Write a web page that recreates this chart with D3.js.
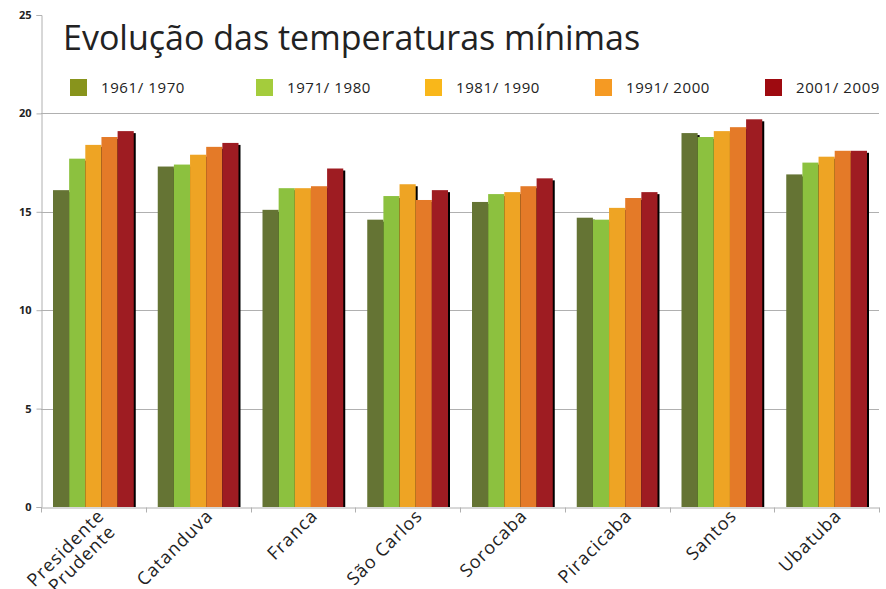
<!DOCTYPE html>
<meta charset="utf-8">
<style>
  body { margin: 0; background: #fff; }
  text { font-family: "Open Sans", sans-serif; }
  .grid line { stroke: #b0b0b0; }
</style>
<script src="https://d3js.org/d3.v7.min.js"></script>
<body>
<script>

var cities = ["Presidente Prudente", "Catanduva", "Franca", "São Carlos", "Sorocaba", "Piracicaba", "Santos", "Ubatuba"];
var periods = ["1961/ 1970", "1971/ 1980", "1981/ 1990", "1991/ 2000", "2001/ 2009"];
var t1961 = [16.1, 17.3, 15.1, 14.6, 15.5, 14.7, 19.0, 16.9];
var t1971 = [17.7, 17.4, 16.2, 15.8, 15.9, 14.6, 18.8, 17.5];
var t1981 = [18.4, 17.9, 16.2, 16.4, 16.0, 15.2, 19.1, 17.8];
var t1991 = [18.8, 18.3, 16.3, 15.6, 16.3, 15.7, 19.3, 18.1];
var t2001 = [19.1, 18.5, 17.2, 16.1, 16.7, 16.0, 19.7, 18.1];
var series = [t1961, t1971, t1981, t1991, t2001];
var yTicks = [0, 5, 10, 15, 20, 25];

var barColors = ["#657434", "#8cc13f", "#eea424", "#e47a28", "#9e1c22"];
var legendColors = ["#88941c", "#a4cc3c", "#f9b71a", "#f59a23", "#9e0a10"];

var width = 886, height = 589;
var mLeft = 41, mRight = 879, mTop = 15, mBottom = 507;

var svg = d3.select("body").append("svg")
    .attr("width", width)
    .attr("height", height);

var x = d3.scaleBand().domain(cities).range([mLeft, mRight]).paddingInner(0).paddingOuter(0);
var xi = d3.scaleBand().domain(d3.range(periods.length)).range([12, x.bandwidth() - 12]);
var y = d3.scaleLinear().domain([0, 25]).range([mBottom, mTop]);

// gridlines
svg.append("g").attr("class", "grid")
  .selectAll("line")
  .data(yTicks.filter(function(d) { return d > 0 && d < 25; }))
  .enter().append("line")
    .attr("x1", mLeft).attr("x2", mRight)
    .attr("y1", function(d) { return Math.round(y(d)) + 0.5; })
    .attr("y2", function(d) { return Math.round(y(d)) + 0.5; });

// bars with a small black shadow
var groups = svg.append("g").selectAll("g")
  .data(cities)
  .enter().append("g")
    .attr("transform", function(d) { return "translate(" + x(d) + ",0)"; });

groups.each(function(city, ci) {
  var g = d3.select(this);
  series.forEach(function(s, si) {
    g.append("rect")
      .attr("x", xi(si) + 2)
      .attr("y", y(s[ci]) + 2)
      .attr("width", xi.bandwidth())
      .attr("height", mBottom - y(s[ci]) - 2)
      .attr("fill", "#000");
  });
  series.forEach(function(s, si) {
    g.append("rect")
      .attr("x", xi(si))
      .attr("y", y(s[ci]))
      .attr("width", xi.bandwidth())
      .attr("height", mBottom - y(s[ci]))
      .attr("fill", barColors[si]);
  });
});

// y axis
var yAxis = d3.axisLeft(y).tickValues(yTicks).tickSize(5).tickPadding(5);
var gy = svg.append("g").attr("transform", "translate(" + (mLeft + 0.5) + ",0)").call(yAxis);
gy.select(".domain").attr("stroke", "#b0b0b0");
gy.selectAll(".tick line").attr("stroke", "#b0b0b0");
gy.selectAll(".tick text")
  .attr("font-size", 11).attr("font-weight", "bold")
  .attr("fill", "#222")
  .attr("font-family", "\"Open Sans\", sans-serif");

// x axis
var xAxis = d3.axisBottom(x).tickSize(0).tickFormat("");
var gx = svg.append("g").attr("transform", "translate(0," + (mBottom + 0.5) + ")").call(xAxis);
gx.select(".domain").attr("stroke", "#b0b0b0");
gx.selectAll(".bound")
  .data(d3.range(cities.length + 1))
  .enter().append("line")
    .attr("x1", function(i) { return Math.round(mLeft + i * x.step()) + 0.5; })
    .attr("x2", function(i) { return Math.round(mLeft + i * x.step()) + 0.5; })
    .attr("y1", 0).attr("y2", 5)
    .attr("stroke", "#b0b0b0");

// category labels, rotated
cities.forEach(function(c) {
  var parts = c === "Presidente Prudente" ? ["Presidente", "Prudente"] : [c];
  var cx = x(c) + x.bandwidth() / 2 + (parts.length > 1 ? 12 : 16);
  var t = svg.append("text")
    .attr("transform", "translate(" + cx + "," + (mBottom + 10) + ") rotate(-45)")
    .attr("text-anchor", "end")
    .attr("font-size", 18)
    .attr("letter-spacing", 1)
    .attr("fill", "#222");
  parts.forEach(function(p, i) {
    t.append("tspan").attr("x", i * -3).attr("dy", i === 0 ? 0 : 19).text(p);
  });
});

// title
svg.append("text")
  .attr("x", 63).attr("y", 50)
  .attr("font-size", 34)
  .attr("fill", "#222")
  .text("Evolução das temperaturas mínimas");

// legend
var legendX = [70, 256, 425, 595, 765];
var lg = svg.append("g").selectAll("g")
  .data(periods)
  .enter().append("g")
    .attr("transform", function(d, i) { return "translate(" + legendX[i] + ",79)"; });
lg.append("rect").attr("width", 17).attr("height", 17)
  .attr("fill", function(d, i) { return legendColors[i]; });
lg.append("text").attr("x", 31).attr("y", 14)
  .attr("font-size", 15).attr("letter-spacing", 0.6).attr("fill", "#222")
  .text(function(d) { return d; });

</script>
</body>
